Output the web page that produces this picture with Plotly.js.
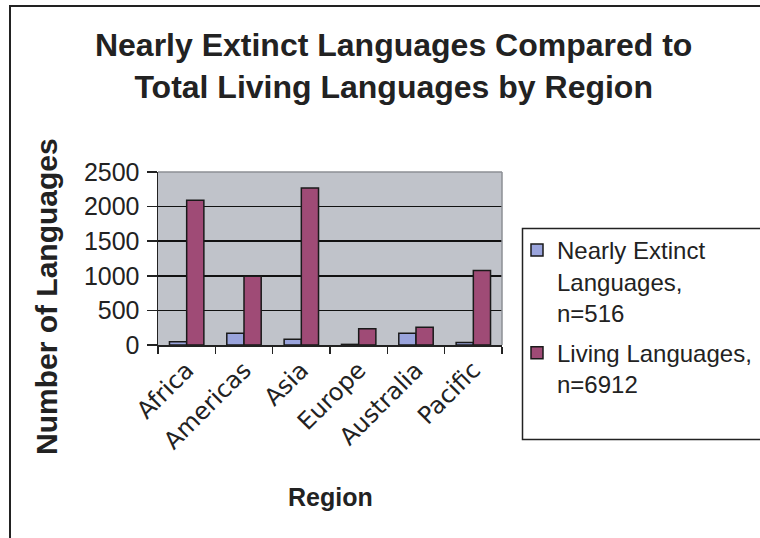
<!DOCTYPE html>
<html>
<head>
<meta charset="utf-8">
<script src="https://cdn.plot.ly/plotly-3.0.1.min.js"></script>
<style>
  html, body { margin: 0; padding: 0; background: #fff; }
  #wrap { position: relative; width: 760px; height: 538px; overflow: hidden; }
  #chart { position: absolute; left: 0; top: 0; width: 760px; height: 538px; }
  #frame { position: absolute; left: 9px; top: 5px; width: 800px; height: 600px;
           border-top: 2px solid #222; border-left: 2px solid #222; pointer-events: none; }
</style>
</head>
<body>
<div id="wrap">
  <div id="chart"></div>
  <div id="frame"></div>
</div>
<script>
const regions = ["Africa", "Americas", "Asia", "Europe", "Australia", "Pacific"];
const nearlyExtinct = [46, 170, 84, 9, 170, 37];
const livingLanguages = [2092, 993, 2269, 234, 258, 1078];
const seriesNames = ["Nearly Extinct<br>Languages,<br>n=516", "Living Languages,<br>n=6912"];
const yTicks = [0, 500, 1000, 1500, 2000, 2500];

const traces = [
  { type: "bar", x: regions, y: nearlyExtinct, name: seriesNames[0], legendgroup: "a",
    marker: { color: "#9aa4dc", line: { color: "#1a1a1a", width: 1.5 } } },
  { type: "bar", x: regions, y: livingLanguages, name: seriesNames[1], legendgroup: "b",
    marker: { color: "#9f4b76", line: { color: "#1a1a1a", width: 1.5 } } }
];

const px = v => (v - 158) / 344;
const py = v => (345 - v) / 173;

const layout = {
  width: 760, height: 538,
  margin: { l: 158, r: 258, t: 172, b: 193, autoexpand: false },
  paper_bgcolor: "#ffffff",
  plot_bgcolor: "#c0c3ca",
  font: { family: "Liberation Sans, Arial, sans-serif", color: "#222" },
  barmode: "group", bargap: 0.4, bargroupgap: 0,
  title: { text: "Nearly Extinct Languages Compared to<br>Total Living Languages by Region",
           font: { size: 32, family: "Liberation Sans, Arial, sans-serif", weight: "bold", color: "#222" },
           x: 0.518, xanchor: "center", y: 0.896, yanchor: "top", yref: "container" },
  xaxis: { type: "category", showline: true, linecolor: "#222", linewidth: 1.5,
           ticks: "outside", tickson: "boundaries", ticklen: 7, tickcolor: "#222", tickwidth: 1.5,
           tickangle: -45, tickfont: { size: 24, family: "DejaVu Sans, sans-serif", color: "#222" },
           showgrid: false, fixedrange: true },
  yaxis: { range: [0, 2500], tickvals: yTicks, showline: true, linecolor: "#222", linewidth: 1.5,
           ticks: "outside", ticklen: 10, tickcolor: "#222", tickwidth: 1.5,
           tickfont: { size: 25, color: "#222" }, ticklabelstandoff: 2,
           showgrid: true, gridcolor: "#111", gridwidth: 1.5, zeroline: false, fixedrange: true },
  legend: { x: px(517), xanchor: "left", y: py(228), yanchor: "top", valign: "top",
            bgcolor: "rgba(0,0,0,0)", borderwidth: 0,
            font: { size: 24, color: "#222" }, tracegroupgap: 6, itemwidth: 30 },
  annotations: [
    { text: "Number of Languages", textangle: -90, showarrow: false,
      xref: "paper", yref: "paper", x: px(46), y: py(296),
      xanchor: "center", yanchor: "middle",
      font: { size: 30, weight: "bold", color: "#222" } },
    { text: "Region", showarrow: false, xref: "paper", yref: "paper",
      x: 0.5, y: py(497), xanchor: "center", yanchor: "middle",
      font: { size: 25, weight: "bold", color: "#222" } }
  ],
  shapes: [
    { type: "line", xref: "paper", yref: "paper", x0: 0, x1: 1, y0: 1, y1: 1,
      line: { color: "#8d8f95", width: 1.5 } },
    { type: "line", xref: "paper", yref: "paper", x0: 1, x1: 1, y0: 0, y1: 1,
      line: { color: "#8d8f95", width: 1.5 } },
    { type: "rect", xref: "paper", yref: "paper", x0: px(522.5), x1: px(800), y0: py(228.5), y1: py(439.5),
      line: { color: "#222", width: 1.5 }, fillcolor: "rgba(0,0,0,0)", layer: "below" }
  ]
};

Plotly.newPlot("chart", traces, layout, { displayModeBar: false, staticPlot: true });
</script>
</body>
</html>
